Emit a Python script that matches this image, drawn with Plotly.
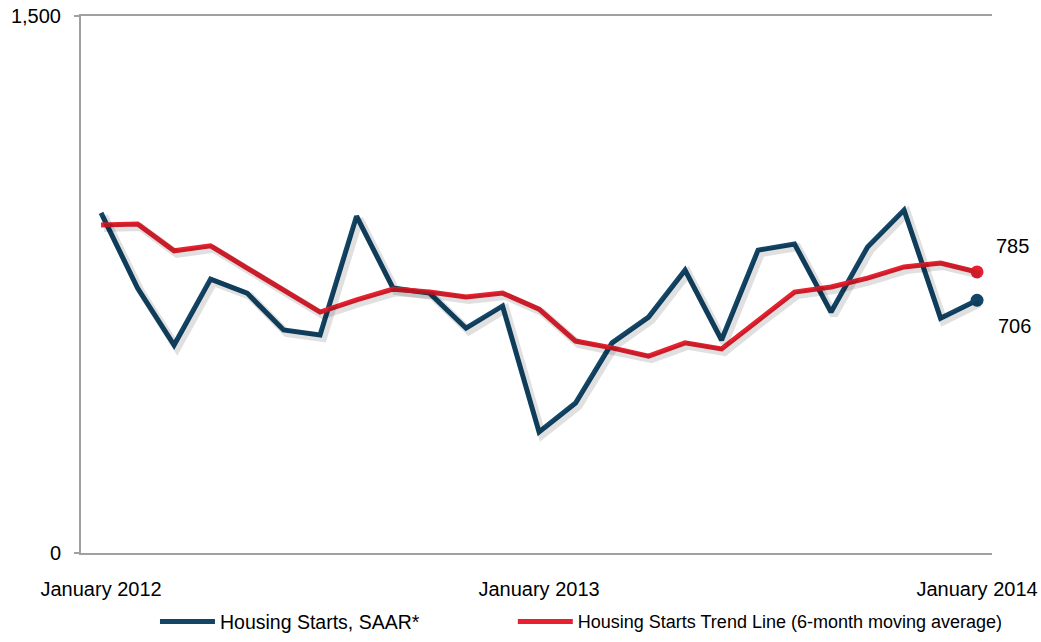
import plotly.graph_objects as go

# Monthly index: 0 = January 2012 ... 24 = January 2014
months = list(range(25))
starts_saar = [950, 740, 581, 765, 726, 623, 609, 941, 740, 726, 628, 690, 338,
               419, 587, 659, 790, 595, 846, 863, 673, 855, 958, 656, 706]
trend_6m = [916, 919, 844, 858, 796, 735, 673, 707, 737, 729, 715, 726, 681,
            592, 573, 550, 587, 570, 651, 729, 743, 768, 799, 810, 785]
tick_vals = [0, 12, 24]
tick_text = ["January 2012", "January 2013", "January 2014"]
y_ticks = [0, 1500]
y_ticktext = ["0", "1,500"]

BLUE = "#124566"
RED = "#e8202f"
GRAY = "#a0a0a0"
FONT = "Liberation Sans, Arial, sans-serif"

x_range = [-0.55, 24.41]
y_range = [0, 1500]
# shadow offset (approx 3px right/down expressed in data units)
dx = 3 / 36.5
dy = 3 / 0.358

fig = go.Figure()

# shadows
for vals in (starts_saar, trend_6m):
    fig.add_trace(go.Scatter(x=months, y=vals, mode="lines", xaxis="x2", yaxis="y2",
                             line=dict(color="rgba(0,0,0,0.12)", width=8),
                             showlegend=False, hoverinfo="skip"))

fig.add_trace(go.Scatter(x=months, y=starts_saar, mode="lines",
                         name="Housing Starts, SAAR*", legend="legend",
                         line=dict(color=BLUE, width=5)))
fig.add_trace(go.Scatter(x=months, y=trend_6m, mode="lines",
                         name="Housing Starts Trend Line (6-month moving average)",
                         legend="legend2",
                         line=dict(color=RED, width=5)))
# end markers
fig.add_trace(go.Scatter(x=[months[-1]], y=[starts_saar[-1]], mode="markers",
                         marker=dict(color=BLUE, size=13), showlegend=False))
fig.add_trace(go.Scatter(x=[months[-1]], y=[trend_6m[-1]], mode="markers",
                         marker=dict(color=RED, size=13), showlegend=False))

fig.add_annotation(x=months[-1], y=trend_6m[-1], text=str(trend_6m[-1]),
                   showarrow=False, xanchor="left", yanchor="middle",
                   xshift=17, yshift=26, font=dict(family=FONT, size=20, color="#000"))
fig.add_annotation(x=months[-1], y=starts_saar[-1], text=str(starts_saar[-1]),
                   showarrow=False, xanchor="left", yanchor="middle",
                   xshift=19, yshift=-26, font=dict(family=FONT, size=20, color="#000"))

legend_common = dict(orientation="h", xanchor="left", y=-0.128, yanchor="middle",
                     bgcolor="rgba(0,0,0,0)", itemwidth=55)

fig.update_layout(
    width=1041, height=642,
    margin=dict(l=81, r=49, t=16, b=89, autoexpand=False),
    paper_bgcolor="white", plot_bgcolor="white",
    font=dict(family=FONT, size=20, color="#000"),
    showlegend=True,
    legend=dict(x=0.0812, font=dict(family=FONT, size=19.5, color="#000"), **legend_common),
    legend2=dict(x=0.474, font=dict(family=FONT, size=18, color="#000"), **legend_common),
    xaxis=dict(range=x_range, tickvals=tick_vals, ticktext=tick_text,
               showgrid=False, zeroline=False, showline=True, mirror=True,
               linecolor=GRAY, linewidth=2, ticks="",
               ticklabelstandoff=17, automargin=False, ticklabeloverflow="allow"),
    yaxis=dict(range=y_range, tickvals=y_ticks, ticktext=y_ticktext,
               showgrid=False, zeroline=False, showline=True, linecolor=GRAY, linewidth=2,
               ticks="outside", ticklen=5, tickcolor=GRAY, tickwidth=2,
               ticklabelstandoff=9, automargin=False, ticklabeloverflow="allow"),
    xaxis2=dict(range=[x_range[0] - dx, x_range[1] - dx], overlaying="x",
                visible=False),
    yaxis2=dict(range=[y_range[0] + dy, y_range[1] + dy], overlaying="y",
                visible=False),
)

fig.write_html("out.html",
               config={"displayModeBar": False},
               post_script="document.body.style.margin='0';document.body.style.overflow='hidden';")
